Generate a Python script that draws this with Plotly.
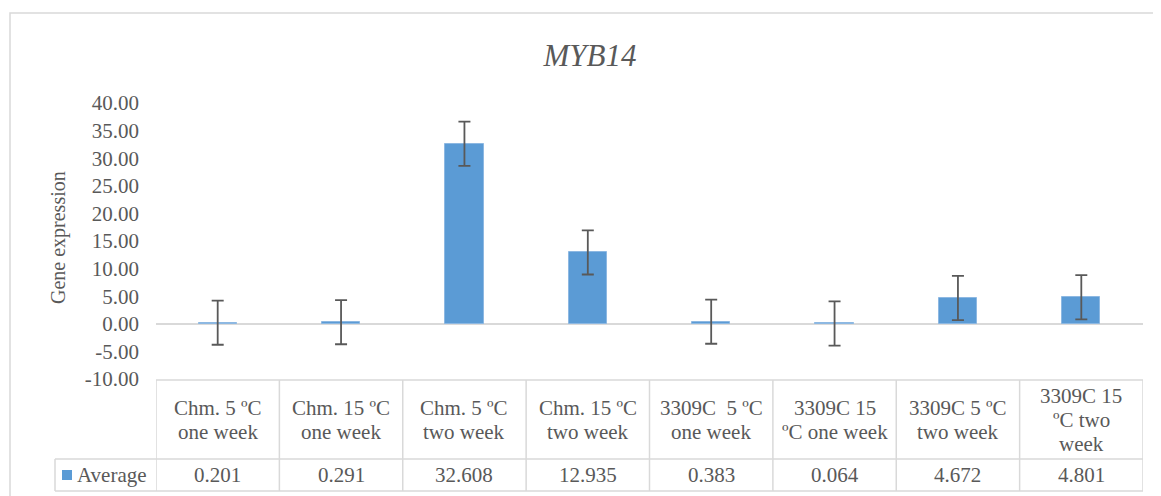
import plotly.graph_objects as go

# ---- data ----
categories = [
    "Chm. 5 ºC one week",
    "Chm. 15 ºC one week",
    "Chm. 5 ºC two week",
    "Chm. 15 ºC two week",
    "3309C  5 ºC one week",
    "3309C 15 ºC one week",
    "3309C 5 ºC two week",
    "3309C 15 ºC two week",
]
category_lines = [
    ["Chm. 5 ºC", "one week"],
    ["Chm. 15 ºC", "one week"],
    ["Chm. 5 ºC", "two week"],
    ["Chm. 15 ºC", "two week"],
    ["3309C  5 ºC", "one week"],
    ["3309C 15", "ºC one week"],
    ["3309C 5 ºC", "two week"],
    ["3309C 15", "ºC two", "week"],
]
average = [0.201, 0.291, 32.608, 12.935, 0.383, 0.064, 4.672, 4.801]
errors = [4.0, 4.0, 4.0, 4.0, 4.0, 4.0, 4.0, 4.0]
series_name = "Average"
y_ticks = [-10, -5, 0, 5, 10, 15, 20, 25, 30, 35, 40]

# ---- style ----
FONT = "Liberation Serif, Times New Roman, serif"
TXT = "#595959"
GRID = "#D9D9D9"
BAR = "#5B9BD5"

OFF = 8  # page body margin
W, H = 1161 - OFF, 496 - OFF
L, R, T, B = 156 - OFF, 18, 103 - OFF, 117
plot_h = H - T - B
plot_w = W - L - R


def py(pix):  # reference pixel y -> paper y
    return (496 - B - pix) / plot_h


def pxp(pix):  # reference pixel x -> paper x
    return (pix - 156) / plot_w


fig = go.Figure()
fig.add_trace(go.Bar(
    x=categories, y=average, name=series_name,
    marker=dict(color=BAR, line=dict(color="#8DB8E2", width=1)),
    width=0.31,
    error_y=dict(type="data", array=errors, visible=True,
                 color=TXT, thickness=1.8, width=6),
    showlegend=False,
))

shapes = []
n = len(categories)
hdr_top, hdr_bot, tbl_bot = py(380), py(459), py(491)
leg_left = pxp(55)
line = dict(color=GRID, width=1.5)
shapes.append(dict(type="line", xref="x", yref="paper", x0=-0.5, x1=n - 0.5, y0=hdr_top, y1=hdr_top, line=line))
for yy in (hdr_bot, tbl_bot):
    shapes.append(dict(type="line", xref="paper", yref="paper", x0=leg_left, x1=1, y0=yy, y1=yy, line=line))
for i in range(n + 1):
    shapes.append(dict(type="line", xref="x", yref="paper", x0=i - 0.5, x1=i - 0.5, y0=hdr_top, y1=tbl_bot, line=line))
shapes.append(dict(type="line", xref="paper", yref="paper", x0=leg_left, x1=leg_left, y0=hdr_bot, y1=tbl_bot, line=line))
shapes.append(dict(type="rect", xref="paper", yref="paper", x0=pxp(62), x1=pxp(72), y0=py(470), y1=py(480),
                   fillcolor=BAR, line=dict(width=0)))
shapes.append(dict(type="rect", xref="paper", yref="paper",
                   x0=pxp(10), x1=pxp(1159), y0=py(505), y1=py(13),
                   line=dict(color=GRID, width=1.5), fillcolor="rgba(0,0,0,0)", layer="below"))

annotations = []
line_h = 24
for cat, lines in zip(categories, category_lines):
    centre = 419.5
    start = centre - (len(lines) - 1) * line_h / 2
    for k, txt in enumerate(lines):
        annotations.append(dict(x=cat, xref="x", y=py(start + k * line_h), yref="paper",
                                text=txt, showarrow=False, xanchor="center", yanchor="middle",
                                font=dict(family=FONT, size=21, color=TXT)))
for cat, v in zip(categories, average):
    annotations.append(dict(x=cat, xref="x", y=py(475), yref="paper", text=f"{v:.3f}",
                            showarrow=False, xanchor="center", yanchor="middle",
                            font=dict(family=FONT, size=21, color=TXT)))
annotations.append(dict(x=pxp(75), xref="paper", y=py(475), yref="paper", text=series_name,
                        showarrow=False, xanchor="left", yanchor="middle",
                        font=dict(family=FONT, size=21, color=TXT)))
annotations.append(dict(x=pxp(58), xref="paper", y=py(238), yref="paper",
                        text="Gene expression", textangle=-90, showarrow=False,
                        xanchor="center", yanchor="middle",
                        font=dict(family=FONT, size=20, color=TXT)))

fig.update_layout(
    width=W, height=H,
    margin=dict(l=L, r=R, t=T, b=B),
    paper_bgcolor="white", plot_bgcolor="white",
    title=dict(text="<i>MYB14</i>", x=(590 - OFF) / W, xref="container", xanchor="center",
               y=1 - (55 - OFF) / H, yref="container", yanchor="middle",
               font=dict(family=FONT, size=31, color=TXT)),
    xaxis=dict(type="category", range=[-0.5, n - 0.5], showticklabels=False,
               showgrid=False, zeroline=False, showline=False, ticks=""),
    yaxis=dict(range=[-10, 40], tickvals=y_ticks, ticktext=[f"{v:.2f}" for v in y_ticks],
               showgrid=False, zeroline=True, zerolinecolor=GRID, zerolinewidth=1.5,
               showline=False, ticks="", ticklabelstandoff=16,
               tickfont=dict(family=FONT, size=21, color=TXT)),
    shapes=shapes, annotations=annotations,
    bargap=0.0,
)

fig.write_html("out.html")
